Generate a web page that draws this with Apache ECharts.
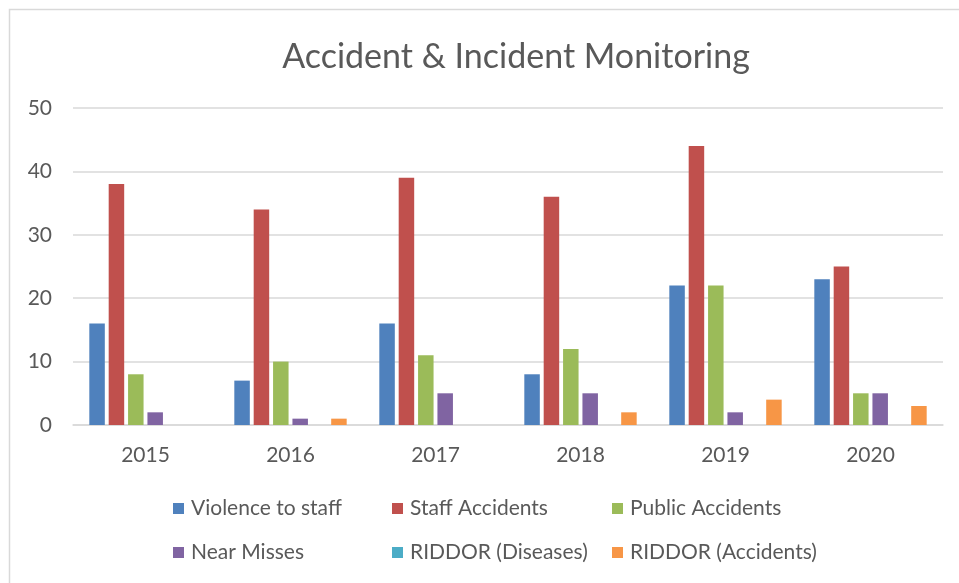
<!DOCTYPE html>
<html>
<head>
<meta charset="utf-8">
<script src="https://cdn.jsdelivr.net/npm/echarts@6/dist/echarts.min.js"></script>
<style>
  html, body { margin: 0; padding: 0; background: #fff; }
  #chart { width: 959px; height: 583px; }
</style>
</head>
<body>
<div id="chart"></div>
<script>
const titleText = 'Accident & Incident Monitoring';
const categories = ['2015', '2016', '2017', '2018', '2019', '2020'];
const seriesNames = ['Violence to staff', 'Staff Accidents', 'Public Accidents', 'Near Misses', 'RIDDOR (Diseases)', 'RIDDOR (Accidents)'];
const violenceToStaff = [16, 7, 16, 8, 22, 23];
const staffAccidents = [38, 34, 39, 36, 44, 25];
const publicAccidents = [8, 10, 11, 12, 22, 5];
const nearMisses = [2, 1, 5, 5, 2, 5];
const riddorDiseases = [0, 0, 0, 0, 0, 0];
const riddorAccidents = [0, 1, 0, 2, 4, 3];
const yTicks = [0, 10, 20, 30, 40, 50];
const colors = ['#4F81BD', '#C0504D', '#9BBB59', '#8064A2', '#4BACC6', '#F79646'];

const seriesData = [violenceToStaff, staffAccidents, publicAccidents, nearMisses, riddorDiseases, riddorAccidents];
const FONT = 'Lato, "Open Sans", sans-serif';
const TXT = '#595959';

const legendPos = [
  { left: 173, top: 498 }, { left: 392, top: 498 }, { left: 612, top: 498 },
  { left: 173, top: 542 }, { left: 392, top: 542 }, { left: 612, top: 542 }
];

const chart = echarts.init(document.getElementById('chart'), null, { renderer: 'canvas' });
chart.setOption({
  animation: false,
  backgroundColor: '#fff',
  color: colors,
  title: {
    text: titleText,
    left: 511, textAlign: 'center',
    top: 35,
    textStyle: { fontFamily: FONT, fontSize: 34, fontWeight: 'normal', color: TXT }
  },
  graphic: [{
    type: 'rect', silent: true,
    shape: { x: 9.5, y: 9.5, width: 1000, height: 1000 },
    style: { fill: 'none', stroke: '#d9d9d9', lineWidth: 1.5 }
  }],
  legend: seriesNames.map((n, i) => ({
    data: [n],
    left: legendPos[i].left, top: legendPos[i].top,
    padding: 0, itemWidth: 11, itemHeight: 11, itemGap: 0,
    icon: 'rect',
    textStyle: { fontFamily: FONT, fontSize: 21, color: TXT, padding: [0, 0, 0, 2] }
  })),
  grid: { left: 73, right: 16, top: 108, bottom: 158, containLabel: false },
  xAxis: {
    type: 'category',
    data: categories,
    axisLine: { show: true, lineStyle: { color: '#d9d9d9', width: 1.5 } },
    axisTick: { show: false },
    axisLabel: { fontFamily: FONT, fontSize: 21, color: TXT, margin: 20 }
  },
  yAxis: {
    type: 'value',
    min: yTicks[0], max: yTicks[yTicks.length - 1], interval: yTicks[1] - yTicks[0],
    axisLine: { show: false },
    axisTick: { show: false },
    splitLine: { lineStyle: { color: '#d9d9d9', width: 1.5 } },
    axisLabel: { fontFamily: FONT, fontSize: 21, color: TXT, margin: 21 }
  },
  series: seriesNames.map((n, i) => ({
    name: n,
    type: 'bar',
    data: seriesData[i],
    barWidth: 15.5,
    barGap: '25%',
    itemStyle: { color: colors[i] }
  }))
});
</script>
</body>
</html>
